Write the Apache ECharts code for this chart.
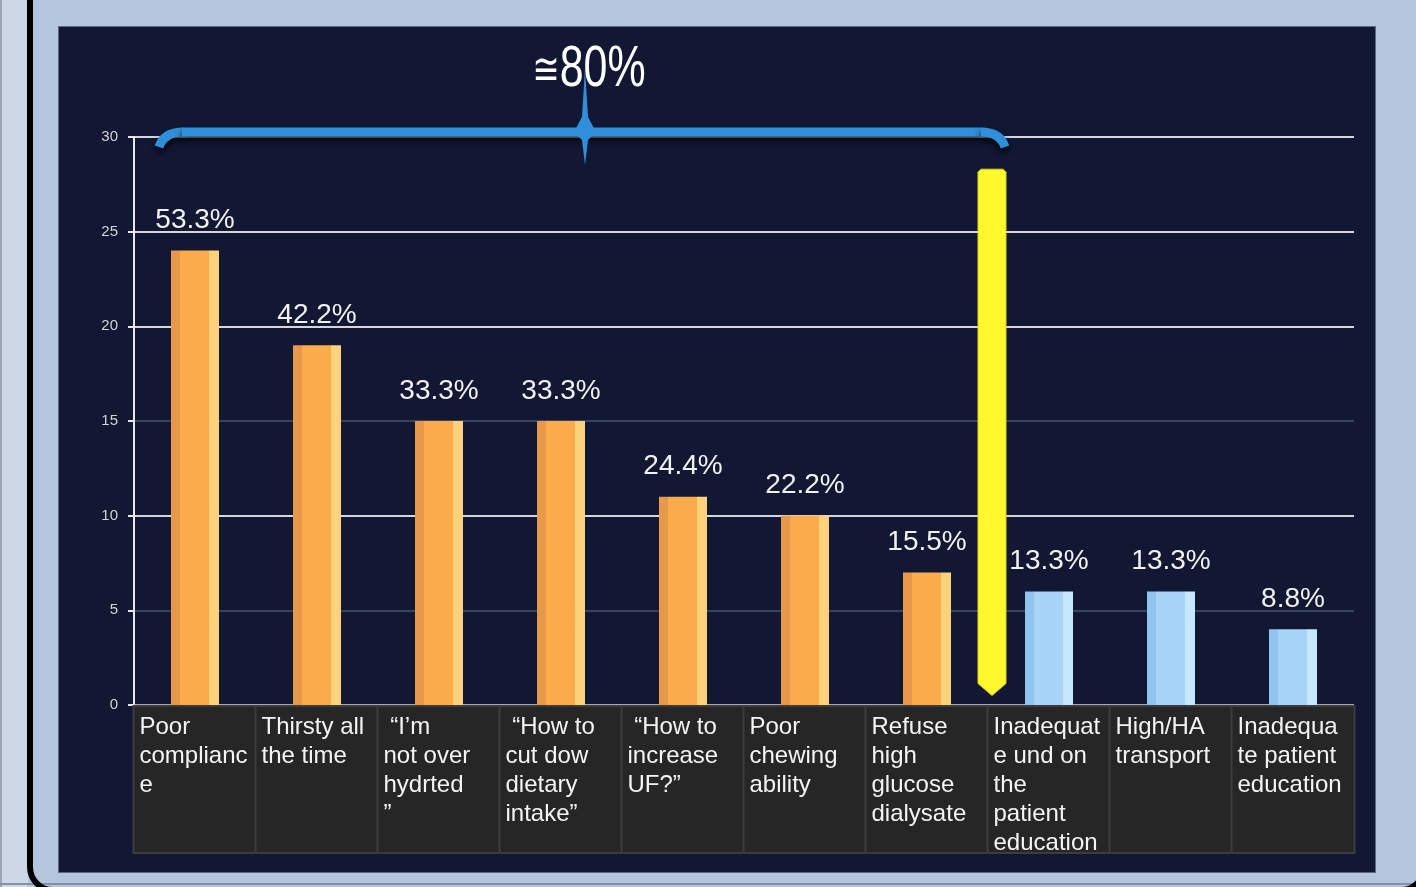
<!DOCTYPE html>
<html>
<head>
<meta charset="utf-8">
<script src="https://cdn.jsdelivr.net/npm/echarts@6/dist/echarts.min.js"></script>
<style>
  html, body { margin: 0; padding: 0; width: 1416px; height: 887px; overflow: hidden; background: #b3c6de; }
  #strip { position: absolute; left: 0; top: 0; width: 28px; height: 887px; background: #cdd7e5; border-left: 2px solid #9aa6b6; box-sizing: border-box; }
  #baseline { position: absolute; left: 0; top: 883px; width: 1416px; height: 2px; background: #8291a6; }
  #frame { position: absolute; left: 27px; top: -60px; width: 1400px; height: 953px; border: 6px solid #000; border-radius: 26px; box-sizing: border-box; }
  #panel { position: absolute; left: 58px; top: 26px; width: 1318px; height: 847px; background: #121734; border: 1px solid #5d6884; box-sizing: border-box; }
  #chart { position: absolute; left: 0; top: 0; width: 1416px; height: 887px; }
</style>
</head>
<body>
<div id="strip"></div>
<div id="baseline"></div>
<div id="frame"></div>
<div id="panel"></div>
<div id="chart"></div>
<script>
// ---- data ----
const categories = [
  'Poor\ncomplianc\ne',
  'Thirsty all\nthe time',
  ' \u201cI\u2019m\nnot over\nhydrted\n\u201d',
  ' \u201cHow to\ncut dow\ndietary\nintake\u201d',
  ' \u201cHow to\nincrease\nUF?\u201d',
  'Poor\nchewing\nability',
  'Refuse\nhigh\nglucose\ndialysate',
  'Inadequat\ne und on\nthe\npatient\neducation',
  'High/HA\ntransport',
  'Inadequa\nte patient\neducation'
];
const counts = [24, 19, 15, 15, 11, 10, 7, 6, 6, 4];
const pctLabels = ['53.3%', '42.2%', '33.3%', '33.3%', '24.4%', '22.2%', '15.5%', '13.3%', '13.3%', '8.8%'];
const groups = ['major', 'major', 'major', 'major', 'major', 'major', 'major', 'minor', 'minor', 'minor'];
const yTicks = { min: 0, max: 30, interval: 5 };
const braceText = { sym: '\u2245', val: '80%' };
const braceValue = 30;          // y level of brace
const cutoffTopValue = 28.3;    // yellow marker top
const cutoffBottomValue = 0.5;  // yellow marker tip
const cutoffAfterIndex = 6;     // marker between category 6 and 7

// ---- styles ----
function grad(a, b, c) {
  return new echarts.graphic.LinearGradient(0, 0, 1, 0, [
    { offset: 0, color: a }, { offset: 0.19, color: a },
    { offset: 0.19, color: b }, { offset: 0.8, color: b },
    { offset: 0.8, color: c }, { offset: 1, color: c }
  ]);
}
const groupColors = {
  major: grad('#e8984b', '#fbab49', '#fed27b'),
  minor: grad('#8fc4ee', '#a7d4f6', '#c6e7fd')
};

const chart = echarts.init(document.getElementById('chart'), null, { renderer: 'canvas' });

const option = {
  backgroundColor: 'transparent',
  animation: false,
  textStyle: { fontFamily: 'Liberation Sans, DejaVu Sans, sans-serif' },
  grid: { left: 134, right: 62, top: 137, bottom: 182, containLabel: false },
  xAxis: {
    type: 'category',
    data: categories,
    axisLine: { show: false },
    axisTick: { show: false },
    axisLabel: {
      interval: 0,
      margin: 2,
      align: 'center',
      verticalAlign: 'top',
      width: 112,
      height: 135,
      padding: [6, 4, 4, 5],
      backgroundColor: '#262626',
      borderColor: '#3c3c3c',
      borderWidth: 2,
      formatter: v => v.split('\n').map(l => '{t|' + l + '}').join('\n'),
      rich: {
        t: { align: 'left', color: '#f4f4f4', fontSize: 24, lineHeight: 29, fontFamily: 'Liberation Sans, DejaVu Sans, sans-serif' }
      }
    }
  },
  yAxis: {
    type: 'value',
    min: yTicks.min, max: yTicks.max, interval: yTicks.interval,
    axisLine: { show: true, lineStyle: { color: '#e8e8e8', width: 2 } },
    axisTick: { show: true, length: 6, lineStyle: { color: '#e8e8e8', width: 2 } },
    axisLabel: { color: '#d4d4d4', fontSize: 15, margin: 16 },
    splitLine: {
      show: true,
      lineStyle: { width: 2, color: ['#aaaaaa', '#3a4262', '#d6d6d6', '#3a4262', '#d6d6d6', '#d6d6d6', '#d6d6d6'] }
    }
  },
  series: [{
    type: 'bar',
    barWidth: 48,
    data: counts.map((v, i) => ({ value: v, itemStyle: { color: groupColors[groups[i]] } })),
    label: {
      show: true,
      position: 'top',
      distance: 16,
      color: '#f2f2f2',
      fontSize: 28,
      formatter: p => pctLabels[p.dataIndex]
    }
  }]
};
chart.setOption(option);

// ---- annotations placed through the axes ----
function px(ci, v) { return chart.convertToPixel({ xAxisIndex: 0, yAxisIndex: 0 }, [ci, v]); }
const c0 = px(0, braceValue);
const c1 = px(1, braceValue);
const band = c1[0] - c0[0];
const xCut = (px(cutoffAfterIndex, 0)[0] + px(cutoffAfterIndex + 1, 0)[0]) / 2 + 4;
const yB = c0[1] - 5;
const xL = c0[0] - band / 2 + 25;
const xR = xCut + 13;
const xc = (xL + xR) / 2 + 3;
const yTop = px(0, cutoffTopValue)[1];
const yTip = px(0, cutoffBottomValue)[1];
const blue = '#2f8fdb';
const braceStyle = { fill: null, stroke: blue, lineWidth: 9, shadowColor: 'rgba(0,0,0,0.85)', shadowBlur: 6, shadowOffsetY: 4 };

chart.setOption({
  graphic: [
    {
      type: 'bezierCurve', z: 100,
      shape: { x1: xL, y1: yB + 15, cpx1: xL + 5, cpy1: yB, x2: xL + 24, y2: yB },
      style: braceStyle
    },
    {
      type: 'line', z: 100,
      shape: { x1: xL + 23, y1: yB, x2: xR - 23, y2: yB },
      style: braceStyle
    },
    {
      type: 'bezierCurve', z: 100,
      shape: { x1: xR - 24, y1: yB, cpx1: xR - 5, cpy1: yB, x2: xR, y2: yB + 15 },
      style: braceStyle
    },
    {
      type: 'polygon', z: 101,
      shape: { points: [[xc, yB - 64], [xc + 3, yB - 15], [xc + 11, yB], [xc + 3, yB + 8], [xc, yB + 33], [xc - 3, yB + 8], [xc - 11, yB], [xc - 3, yB - 15]] },
      style: { fill: blue }
    },
    {
      type: 'text', z: 102,
      x: xc + 4, y: yB - 62, scaleX: 0.74,
      style: {
        text: '{a|' + braceText.sym + '}{b|' + braceText.val + '}',
        align: 'center', verticalAlign: 'middle',
        rich: {
          a: { fontSize: 44, fill: '#ffffff', fontFamily: 'DejaVu Sans', padding: [6, 0, 0, 0] },
          b: { fontSize: 58, fill: '#ffffff', fontFamily: 'Liberation Sans' }
        }
      }
    },
    {
      type: 'polygon', z: 100,
      shape: { points: [[xCut - 14, yTop + 3], [xCut - 11, yTop], [xCut + 11, yTop], [xCut + 14, yTop + 3], [xCut + 14, yTip - 12], [xCut, yTip], [xCut - 14, yTip - 12]] },
      style: { fill: '#fff82c', stroke: '#d9d21e', lineWidth: 1 }
    }
  ]
});
</script>
</body>
</html>
